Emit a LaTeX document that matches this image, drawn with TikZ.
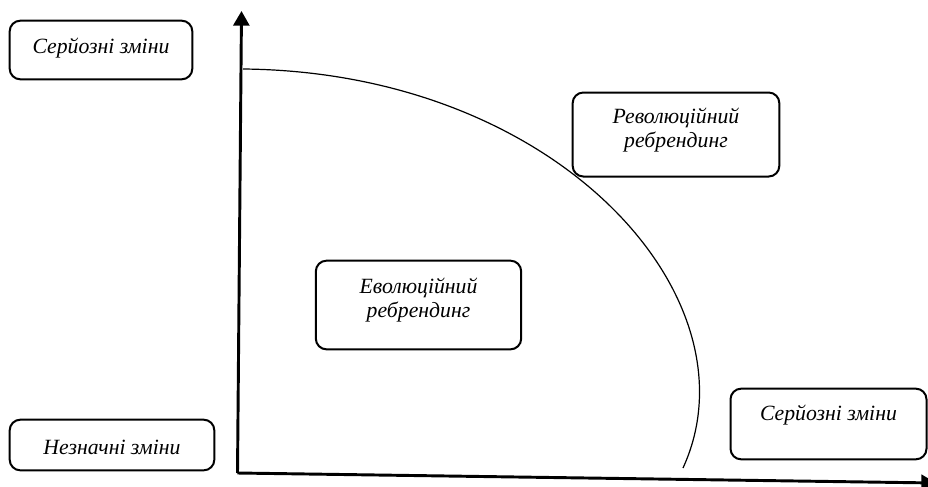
\documentclass[tikz,border=0pt]{standalone}
\usepackage{fontspec}
\setmainfont{Liberation Serif}
\usepackage{tikz}
\usetikzlibrary{arrows.meta}

\begin{document}
\begin{tikzpicture}[x=0.75pt, y=-0.75pt,
    box/.style={draw, line width=1.5pt, rounded corners=8pt, inner sep=0pt},
    txt/.style={font=\fontsize{16.3}{18.5}\selectfont\itshape, align=center},
    axis/.style={line width=2.2pt, -{Triangle[length=11pt,width=12pt]}},
    curve/.style={line width=0.9pt},
  ]
    \clip (0,0) rectangle (928,486);

    % boxes
    \node[box, minimum width=137pt, minimum height=44pt]   (major1) at (101,50)    {};
    \node[box, minimum width=155pt, minimum height=63pt]   (rev)    at (676,134.5) {};
    \node[box, minimum width=154pt, minimum height=66.5pt] (evo)    at (418.5,305) {};
    \node[box, minimum width=153.5pt, minimum height=38pt] (minor)  at (112,445)   {};
    \node[box, minimum width=147pt, minimum height=53pt]   (major2) at (828.5,424) {};

    % texts
    \node[txt] (tmajor1) at (101,48)    {Серйозні зміни};
    \node[txt] (trev)    at (676,130)   {Революційний\\ребрендинг};
    \node[txt] (tevo)    at (418.5,300) {Еволюційний\\ребрендинг};
    \node[txt] (tminor)  at (112,447)   {Незначні зміни};
    \node[txt] (tmajor2) at (828.5,415) {Серйозні зміни};

    % axes
    \coordinate (o)  at (237.5,473);
    \coordinate (yt) at (241.5,11);
    \coordinate (xt) at (936,483);
    \draw[axis] (o) -- (yt);
    \draw[axis] (o) -- (xt);

    % border curve
    \coordinate (c0) at (243,69);
    \coordinate (c1) at (683,468);
    \draw[curve] (c0) .. controls (560,72) and (760,300) .. (c1);
\end{tikzpicture}
\end{document}
